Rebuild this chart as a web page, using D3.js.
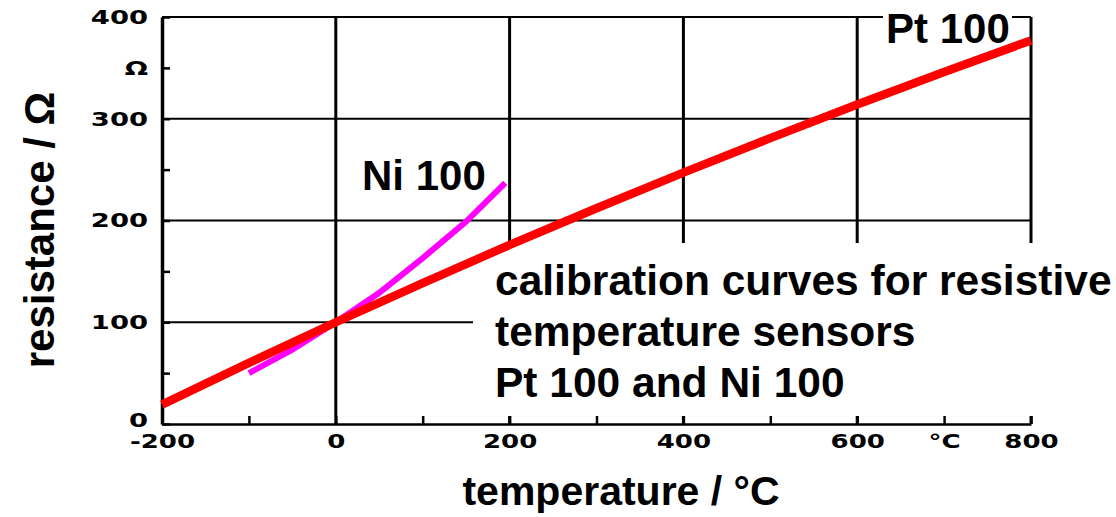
<!DOCTYPE html>
<html><head><meta charset="utf-8">
<script src="https://cdn.jsdelivr.net/npm/d3@7"></script>
<style>
body{margin:0;background:#fff;}
svg{display:block;}
</style></head>
<body>
<svg id="chart" width="1116" height="517"></svg>
<script>
// ---- data ----
const xTicks = [-200,-100,0,100,200,300,400,500,600,700,800];
const xTickLabels = ["-200","","0","","200","","400","","600","°C","800"];
const yTicks = [0,50,100,150,200,250,300,350,400];
const yTickLabels = ["0","","100","","200","","300","Ω","400"];
const xGrid = [0,200,400,600,800];
const yGrid = [100,200,300,400];
const ptTemp = [-200,-100,0,100,200,300,400,500,600,700,800];
const ptRes  = [19,60,100,138.5,176,212,247,281,314,346,377];
const niTemp = [-100,-50,0,50,100,150,195];
const niRes  = [50,73,100,129,163,199,237];
const annotations = ["calibration curves for resistive","temperature sensors","Pt 100 and Ni 100"];

const svg = d3.select("#chart");
const x = d3.scaleLinear().domain([-200,800]).range([162,1031]);
const y = d3.scaleLinear().domain([0,400]).range([424,17]);

// grid
const g = svg.append("g");
g.selectAll(".vg").data(xGrid).join("line")
  .attr("x1",d=>x(d)).attr("x2",d=>x(d)).attr("y1",y(400)).attr("y2",y(0))
  .attr("stroke","#000").attr("stroke-width",3);
g.selectAll(".hg").data(yGrid).join("line")
  .attr("x1",x(-200)).attr("x2",x(800)).attr("y1",d=>y(d)).attr("y2",d=>y(d))
  .attr("stroke","#000").attr("stroke-width",2.2);

// axes
const fmtX = d => xTickLabels[xTicks.indexOf(d)];
const fmtY = d => yTickLabels[yTicks.indexOf(d)];
const xAxis = svg.append("g").attr("transform",`translate(0,${y(0)})`)
  .call(d3.axisBottom(x).tickValues(xTicks).tickFormat(fmtX).tickSizeInner(-8).tickSizeOuter(0).tickPadding(11));
const yAxis = svg.append("g").attr("transform",`translate(${x(-200)},0)`)
  .call(d3.axisLeft(y).tickValues(yTicks).tickFormat(fmtY).tickSizeInner(-8).tickSizeOuter(0).tickPadding(14));
xAxis.select(".domain").attr("stroke-width",2.5);
yAxis.select(".domain").attr("stroke-width",3.5);
[xAxis,yAxis].forEach(a=>{
  a.selectAll(".tick line").attr("stroke-width",2.5);
  a.selectAll("text").attr("font-family","DejaVu Sans").attr("font-weight","bold").attr("font-size",20).attr("fill","#000");
});
xAxis.selectAll(".tick text").attr("font-size",19);
yAxis.selectAll(".tick text").filter(d=>d===0).attr("dy","0.1em");
svg.selectAll(".tick text").each(function(){
  const w = this.getComputedTextLength();
  if (w>0) d3.select(this).attr("textLength", w*1.37).attr("lengthAdjust","spacingAndGlyphs");
});

// white mask behind annotation block
svg.append("rect").attr("x",473).attr("y",243).attr("width",1116-473).attr("height",173).attr("fill","#fff");
// mask behind Pt 100 label
svg.append("rect").attr("x",883).attr("y",8).attr("width",129).attr("height",36).attr("fill","#fff");

// curves
const line = d3.line().x(d=>x(d[0])).y(d=>y(d[1]));
svg.append("path").datum(niTemp.map((t,i)=>[t,niRes[i]])).attr("d",line)
  .attr("fill","none").attr("stroke","#ff00ff").attr("stroke-width",6);
svg.append("path").datum(ptTemp.map((t,i)=>[t,ptRes[i]])).attr("d",line)
  .attr("fill","none").attr("stroke","#ff0000").attr("stroke-width",8.5);

// labels
const lab = (txt,xx,yy,opt={}) => svg.append("text").attr("x",xx).attr("y",yy)
  .attr("font-family","Liberation Sans, Arial, sans-serif").attr("font-weight","bold")
  .attr("font-size",opt.fs||42).attr("fill","#000").attr("text-anchor",opt.anchor||"start").text(txt);
lab("Pt 100",886,43);
lab("Ni 100",362,190);
annotations.forEach((t,i)=>lab(t,495,295+i*51,{fs:42.5}));
lab("temperature / °C",621,505,{anchor:"middle",fs:41});
svg.append("text").attr("transform","translate(54,230) rotate(-90)")
  .attr("font-family","Liberation Sans, Arial, sans-serif").attr("font-weight","bold")
  .attr("font-size",42).attr("text-anchor","middle").attr("fill","#000").text("resistance / Ω");
</script>
</body></html>
